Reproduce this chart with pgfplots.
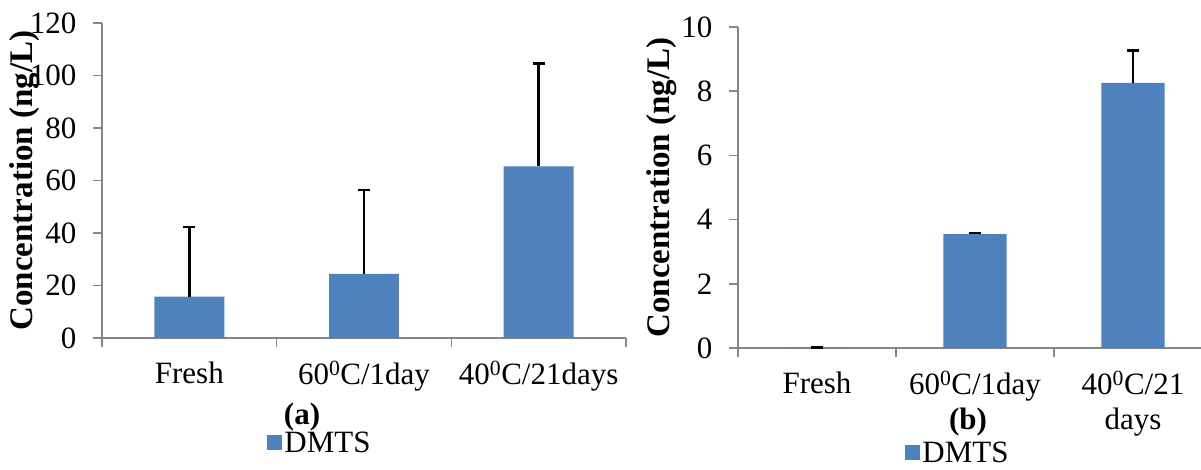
\documentclass[border=0pt]{standalone}
\usepackage{pgfplots}
\pgfplotsset{compat=1.18}
\usepackage{fontspec}
\setmainfont{Liberation Serif}
\definecolor{barblue}{HTML}{4F81BD}
\definecolor{axgray}{HTML}{868686}
\newcommand\bigf{\fontsize{31}{35}\selectfont}
\newcommand\labf{\fontsize{33}{36}\selectfont}
\pgfplotsset{
  mystyle/.style={
    scale only axis,
    axis x line=bottom, axis y line=left,
    axis line style={draw=axgray, line width=1.5pt, -},
    ybar, bar width=0.4,
    xmin=-0.5, xmax=2.5, ymin=0,
    xtick={-0.5,0.5,1.5,2.5},
    x tick label as interval,
    tick align=outside,
    major tick length=9pt,
    tick style={draw=axgray, line width=1.5pt},
    ticklabel style={font=\bigf},
    xticklabel style={align=center, yshift=-11pt},
    yticklabel style={xshift=-13pt},
    /pgf/number format/assume math mode=true,
    ylabel style={font=\labf\bfseries, anchor=center},
    legend image code/.code={\fill[#1] (0pt,-7.5pt) rectangle (15pt,7.5pt);},
    legend style={draw=none, fill=none, font=\bigf, anchor=center},
  },
  mybar/.style={fill=barblue, draw=none,
    error bars/.cd, y dir=plus, y explicit,
    error bar style={black, line width=2.5pt},
    error mark options={rotate=90, mark size=6pt, line width=2.5pt, black}},
}
\begin{document}
\begin{tikzpicture}
\path[use as bounding box] (0,0) rectangle (1201pt,469pt);
\begin{axis}[mystyle,
  at={(102pt,131pt)}, anchor=south west,
  width=524pt, height=315pt,
  ymax=120, ytick={0,20,...,120},
  xticklabels={Fresh, 60\textsuperscript{0}C/1day, 40\textsuperscript{0}C/21days},
  ylabel={Concentration (ng/L)},
  ylabel style={at={(axis description cs:-0.147,0.5)}},
  legend style={at={(axis description cs:0.416,-0.333)}},
]
\addplot[mybar] coordinates {(0,15.8) +- (0,26.5) (1,24.4) +- (0,32.0) (2,65.4) +- (0,39.2)};
\addlegendentry{DMTS}
\end{axis}
\node[font=\bigf\bfseries] at (302pt,52pt) {(a)};
\begin{axis}[mystyle,
  at={(738pt,121pt)}, anchor=south west,
  width=474pt, height=321pt,
  ymax=10, ytick={0,2,...,10},
  xticklabels={Fresh, 60\textsuperscript{0}C/1day, 40\textsuperscript{0}C/21\\days},
  ylabel={Concentration (ng/L)},
  ylabel style={at={(axis description cs:-0.160,0.5)}},
  legend style={at={(axis description cs:0.464,-0.327)}},
]
\addplot[mybar] coordinates {(0,0.02) +- (0,0) (1,3.55) +- (0,0.03) (2,8.26) +- (0,1.01)};
\addlegendentry{DMTS}
\end{axis}
\node[font=\bigf\bfseries] at (968pt,47pt) {(b)};
\end{tikzpicture}
\end{document}
